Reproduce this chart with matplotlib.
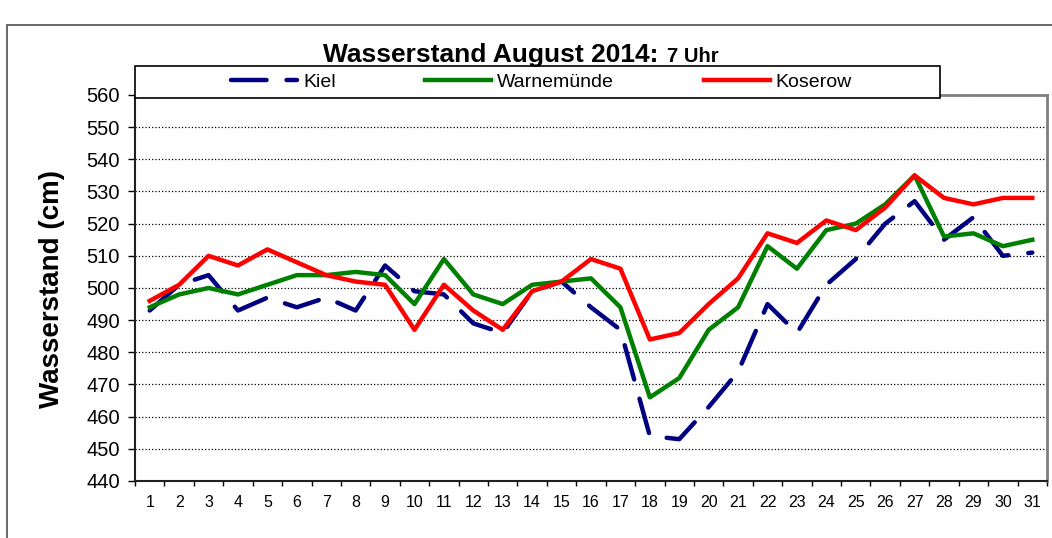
import matplotlib.pyplot as plt
from matplotlib.patches import Rectangle
from matplotlib.ticker import FixedLocator

#  ------- Data -------  #
days = list(range(1, 32))
kiel = [493, 501, 504, 493, 497, 494, 497, 493, 507, 499, 498, 489, 486, 499, 502, 494,
        487, 454, 453, 463, 474, 495, 486, 501, 509, 520, 527, 515, 522, 510, 511]
warnemuende = [494, 498, 500, 498, 501, 504, 504, 505, 504, 495, 509, 498, 495, 501, 502, 503,
               494, 466, 472, 487, 494, 513, 506, 518, 520, 526, 535, 516, 517, 513, 515]
koserow = [496, 501, 510, 507, 512, 508, 504, 502, 501, 487, 501, 493, 487, 499, 502, 509,
           506, 484, 486, 495, 503, 517, 514, 521, 518, 525, 535, 528, 526, 528, 528]
y_ticks = list(range(440, 561, 10))

plt.rcParams['font.family'] = ['Liberation Sans', 'DejaVu Sans']

fig = plt.figure(figsize=(10.52, 5.38), dpi=100)
W, H = 1052, 538

# outer chart border
fig.patches.append(Rectangle((7 / W, -0.1), 1.2, (1 - 25 / H) + 0.1, transform=fig.transFigure,
                             fill=False, edgecolor='#505050', linewidth=1.2, zorder=0))

ax = fig.add_axes([135 / W, (H - 481) / H, 912 / W, 386 / H])

lines = []
lines += ax.plot(days, kiel, color='#000080', linewidth=3.2, dashes=(8, 4.5),
                 dash_capstyle='round', label='Kiel')
lines += ax.plot(days, warnemuende, color='#008000', linewidth=3.2, label='Warnemünde')
lines += ax.plot(days, koserow, color='#ff0000', linewidth=3.2, label='Koserow')

ax.set_xlim(0.5, 31.5)
ax.set_ylim(440, 560)
ax.set_yticks(y_ticks)
ax.set_xticks(days)
ax.xaxis.set_minor_locator(FixedLocator([d + 0.5 for d in range(0, 32)]))
ax.tick_params(axis='x', which='major', length=0, labelsize=11.5, pad=10)
ax.tick_params(axis='x', which='minor', length=3.5, width=1, direction='out')
ax.tick_params(axis='y', length=5, width=1, direction='out', labelsize=14.5, pad=6)

ax.yaxis.grid(True, linestyle=':', color='black', linewidth=0.9)
ax.set_axisbelow(True)

for side in ['top', 'right']:
    ax.spines[side].set_color('#808080')
    ax.spines[side].set_linewidth(2)
ax.spines['left'].set_linewidth(1.5)
ax.spines['bottom'].set_linewidth(1.5)
ax.spines['left'].set_color('#202020')
ax.spines['bottom'].set_color('#202020')

fig.text(52 / W, 1 - 289 / H, 'Wasserstand (cm)', fontsize=20, fontweight='bold',
         rotation=90, ha='center', va='center')

# title with smaller suffix
fig.text(658 / W, 1 - 62 / H, 'Wasserstand August 2014:', fontsize=19, fontweight='bold',
         ha='right', va='baseline')
fig.text(667 / W, 1 - 62 / H, '7 Uhr', fontsize=14.5, fontweight='bold', ha='left',
         va='baseline')

# legend box
fig.patches.append(Rectangle((135 / W, 1 - 98 / H), 805 / W, 32 / H, transform=fig.transFigure,
                             facecolor='white', edgecolor='black', linewidth=1.2, zorder=2))
fig.legend(handles=lines, loc='center', bbox_to_anchor=(541.5 / W, 1 - 82 / H), ncol=3,
           fontsize=14, frameon=False, handlelength=3.4, handletextpad=0.3,
           columnspacing=4.6, borderpad=0, borderaxespad=0)

fig.savefig('out.png', dpi=100)
